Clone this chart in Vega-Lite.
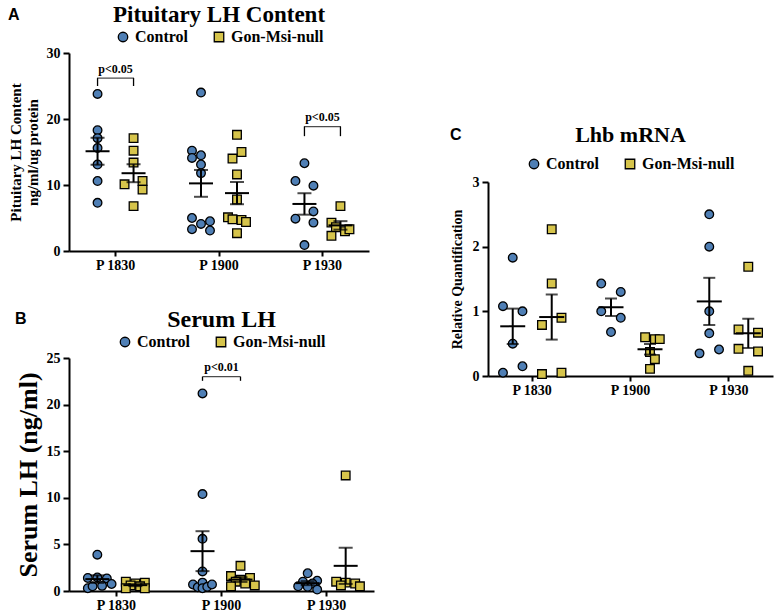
{
  "$schema": "https://vega.github.io/schema/vega-lite/v6.json",
  "padding": {"left": 8, "top": 4, "right": 2, "bottom": 0},
  "config": {
    "view": {"stroke": null},
    "font": "Liberation Serif",
    "title": {"font": "Liberation Serif", "fontWeight": "bold", "fontSize": 23, "color": "black"},
    "axis": {"grid": false, "domainColor": "black", "domainWidth": 2, "tickColor": "black", "tickWidth": 2, "labelColor": "black", "labelFont": "Liberation Serif", "labelFontWeight": "bold", "labelFontSize": 14, "titleFont": "Liberation Serif", "titleFontWeight": "bold", "titleColor": "black"},
    "axisX": {"title": null, "labelAngle": 0, "tickSize": 5, "labelPadding": 2},
    "axisY": {"tickSize": 6, "labelPadding": 3},
    "legend": {"orient": "top", "direction": "horizontal", "labelFont": "Liberation Serif", "labelFontWeight": "bold", "labelFontSize": 16, "labelColor": "black", "symbolSize": 90, "symbolStrokeColor": "black", "symbolStrokeWidth": 1.3, "columnPadding": 22, "padding": 0, "offset": 8, "layout": {"top": {"anchor": "middle"}}}
  },
  "datasets": {
    "A": [
      {"p": "P 1830", "g": "Control", "l": "c0", "v": 23.8},
      {"p": "P 1830", "g": "Control", "l": "c0", "v": 18.3},
      {"p": "P 1830", "g": "Control", "l": "c0", "v": 17.1},
      {"p": "P 1830", "g": "Control", "l": "c0", "v": 15.6},
      {"p": "P 1830", "g": "Control", "l": "c0", "v": 13.1},
      {"p": "P 1830", "g": "Control", "l": "c0", "v": 10.6},
      {"p": "P 1830", "g": "Control", "l": "c0", "v": 7.3},
      {"p": "P 1830", "g": "Gon-Msi-null", "l": "g0", "v": 17.1},
      {"p": "P 1830", "g": "Gon-Msi-null", "l": "g0", "v": 15.2},
      {"p": "P 1830", "g": "Gon-Msi-null", "l": "g0", "v": 13.4},
      {"p": "P 1830", "g": "Gon-Msi-null", "l": "g-2", "v": 10.1},
      {"p": "P 1830", "g": "Gon-Msi-null", "l": "g2", "v": 10.6},
      {"p": "P 1830", "g": "Gon-Msi-null", "l": "g2", "v": 9.3},
      {"p": "P 1830", "g": "Gon-Msi-null", "l": "g0", "v": 6.8},
      {"p": "P 1900", "g": "Control", "l": "c0", "v": 24.0},
      {"p": "P 1900", "g": "Control", "l": "c-2", "v": 15.2},
      {"p": "P 1900", "g": "Control", "l": "c0", "v": 14.5},
      {"p": "P 1900", "g": "Control", "l": "c-2", "v": 14.1},
      {"p": "P 1900", "g": "Control", "l": "c0", "v": 13.1},
      {"p": "P 1900", "g": "Control", "l": "c0", "v": 11.8},
      {"p": "P 1900", "g": "Control", "l": "c-2", "v": 5.0},
      {"p": "P 1900", "g": "Control", "l": "c0", "v": 4.1},
      {"p": "P 1900", "g": "Control", "l": "c2", "v": 4.5},
      {"p": "P 1900", "g": "Control", "l": "c-2", "v": 3.3},
      {"p": "P 1900", "g": "Control", "l": "c2", "v": 3.1},
      {"p": "P 1900", "g": "Gon-Msi-null", "l": "g0", "v": 17.6},
      {"p": "P 1900", "g": "Gon-Msi-null", "l": "g1", "v": 15.0},
      {"p": "P 1900", "g": "Gon-Msi-null", "l": "g-1", "v": 14.0},
      {"p": "P 1900", "g": "Gon-Msi-null", "l": "g0", "v": 11.6},
      {"p": "P 1900", "g": "Gon-Msi-null", "l": "g0", "v": 7.8},
      {"p": "P 1900", "g": "Gon-Msi-null", "l": "g-2", "v": 5.1},
      {"p": "P 1900", "g": "Gon-Msi-null", "l": "g-1", "v": 4.8},
      {"p": "P 1900", "g": "Gon-Msi-null", "l": "g1", "v": 4.7},
      {"p": "P 1900", "g": "Gon-Msi-null", "l": "g2", "v": 4.4},
      {"p": "P 1900", "g": "Gon-Msi-null", "l": "g0", "v": 2.7},
      {"p": "P 1930", "g": "Control", "l": "c0", "v": 13.3},
      {"p": "P 1930", "g": "Control", "l": "c-2", "v": 10.6},
      {"p": "P 1930", "g": "Control", "l": "c2", "v": 9.9},
      {"p": "P 1930", "g": "Control", "l": "c2", "v": 6.0},
      {"p": "P 1930", "g": "Control", "l": "c-2", "v": 4.9},
      {"p": "P 1930", "g": "Control", "l": "c2", "v": 4.3},
      {"p": "P 1930", "g": "Control", "l": "c0", "v": 0.9},
      {"p": "P 1930", "g": "Gon-Msi-null", "l": "g0", "v": 6.8},
      {"p": "P 1930", "g": "Gon-Msi-null", "l": "g-2", "v": 4.3},
      {"p": "P 1930", "g": "Gon-Msi-null", "l": "g-1", "v": 3.6},
      {"p": "P 1930", "g": "Gon-Msi-null", "l": "g1", "v": 3.0},
      {"p": "P 1930", "g": "Gon-Msi-null", "l": "g2", "v": 3.3},
      {"p": "P 1930", "g": "Gon-Msi-null", "l": "g-2", "v": 2.3}
    ],
    "B": [
      {"p": "P 1830", "g": "Control", "l": "c0", "v": 3.9},
      {"p": "P 1830", "g": "Control", "l": "c-2", "v": 1.4},
      {"p": "P 1830", "g": "Control", "l": "c0", "v": 1.45},
      {"p": "P 1830", "g": "Control", "l": "c2", "v": 1.35},
      {"p": "P 1830", "g": "Control", "l": "c-2", "v": 0.3},
      {"p": "P 1830", "g": "Control", "l": "c-1", "v": 0.5},
      {"p": "P 1830", "g": "Control", "l": "c1", "v": 0.55},
      {"p": "P 1830", "g": "Control", "l": "c3", "v": 0.75},
      {"p": "P 1830", "g": "Gon-Msi-null", "l": "g-2", "v": 1.0},
      {"p": "P 1830", "g": "Gon-Msi-null", "l": "g2", "v": 0.9},
      {"p": "P 1830", "g": "Gon-Msi-null", "l": "g0", "v": 0.8},
      {"p": "P 1830", "g": "Gon-Msi-null", "l": "g-1", "v": 0.6},
      {"p": "P 1830", "g": "Gon-Msi-null", "l": "g1", "v": 0.5},
      {"p": "P 1830", "g": "Gon-Msi-null", "l": "g-2", "v": 0.3},
      {"p": "P 1830", "g": "Gon-Msi-null", "l": "g2", "v": 0.3},
      {"p": "P 1900", "g": "Control", "l": "c0", "v": 21.2},
      {"p": "P 1900", "g": "Control", "l": "c0", "v": 10.4},
      {"p": "P 1900", "g": "Control", "l": "c0", "v": 5.6},
      {"p": "P 1900", "g": "Control", "l": "c0", "v": 2.1},
      {"p": "P 1900", "g": "Control", "l": "c-2", "v": 0.7},
      {"p": "P 1900", "g": "Control", "l": "c-1", "v": 0.4},
      {"p": "P 1900", "g": "Control", "l": "c0", "v": 0.9},
      {"p": "P 1900", "g": "Control", "l": "c0", "v": 0.3},
      {"p": "P 1900", "g": "Control", "l": "c1", "v": 0.45},
      {"p": "P 1900", "g": "Control", "l": "c2", "v": 0.7},
      {"p": "P 1900", "g": "Gon-Msi-null", "l": "g0", "v": 2.7},
      {"p": "P 1900", "g": "Gon-Msi-null", "l": "g-2", "v": 1.6},
      {"p": "P 1900", "g": "Gon-Msi-null", "l": "g2", "v": 1.4},
      {"p": "P 1900", "g": "Gon-Msi-null", "l": "g0", "v": 1.2},
      {"p": "P 1900", "g": "Gon-Msi-null", "l": "g-1", "v": 1.0},
      {"p": "P 1900", "g": "Gon-Msi-null", "l": "g1", "v": 0.8},
      {"p": "P 1900", "g": "Gon-Msi-null", "l": "g3", "v": 0.6},
      {"p": "P 1900", "g": "Gon-Msi-null", "l": "g-2", "v": 0.5},
      {"p": "P 1930", "g": "Control", "l": "c0", "v": 1.9},
      {"p": "P 1930", "g": "Control", "l": "c2", "v": 1.1},
      {"p": "P 1930", "g": "Control", "l": "c-1", "v": 1.0},
      {"p": "P 1930", "g": "Control", "l": "c1", "v": 0.8},
      {"p": "P 1930", "g": "Control", "l": "c-2", "v": 0.5},
      {"p": "P 1930", "g": "Control", "l": "c0", "v": 0.45},
      {"p": "P 1930", "g": "Control", "l": "c2", "v": 0.15},
      {"p": "P 1930", "g": "Gon-Msi-null", "l": "g0", "v": 12.4},
      {"p": "P 1930", "g": "Gon-Msi-null", "l": "g-2", "v": 1.0},
      {"p": "P 1930", "g": "Gon-Msi-null", "l": "g0", "v": 0.9},
      {"p": "P 1930", "g": "Gon-Msi-null", "l": "g2", "v": 0.8},
      {"p": "P 1930", "g": "Gon-Msi-null", "l": "g-1", "v": 0.6},
      {"p": "P 1930", "g": "Gon-Msi-null", "l": "g3", "v": 0.5}
    ],
    "C": [
      {"p": "P 1830", "g": "Control", "l": "c0", "v": 1.83},
      {"p": "P 1830", "g": "Control", "l": "c-2", "v": 1.08},
      {"p": "P 1830", "g": "Control", "l": "c2", "v": 1.0},
      {"p": "P 1830", "g": "Control", "l": "c0", "v": 0.5},
      {"p": "P 1830", "g": "Control", "l": "c2", "v": 0.15},
      {"p": "P 1830", "g": "Control", "l": "c-2", "v": 0.05},
      {"p": "P 1830", "g": "Gon-Msi-null", "l": "g0", "v": 2.27},
      {"p": "P 1830", "g": "Gon-Msi-null", "l": "g0", "v": 1.43},
      {"p": "P 1830", "g": "Gon-Msi-null", "l": "g2", "v": 0.9},
      {"p": "P 1830", "g": "Gon-Msi-null", "l": "g-2", "v": 0.79},
      {"p": "P 1830", "g": "Gon-Msi-null", "l": "g-2", "v": 0.03},
      {"p": "P 1830", "g": "Gon-Msi-null", "l": "g2", "v": 0.05},
      {"p": "P 1900", "g": "Control", "l": "c-2", "v": 1.43},
      {"p": "P 1900", "g": "Control", "l": "c2", "v": 1.3},
      {"p": "P 1900", "g": "Control", "l": "c-2", "v": 1.0},
      {"p": "P 1900", "g": "Control", "l": "c2", "v": 0.9},
      {"p": "P 1900", "g": "Control", "l": "c0", "v": 0.68},
      {"p": "P 1900", "g": "Gon-Msi-null", "l": "g-1", "v": 0.6},
      {"p": "P 1900", "g": "Gon-Msi-null", "l": "g1", "v": 0.57},
      {"p": "P 1900", "g": "Gon-Msi-null", "l": "g2", "v": 0.57},
      {"p": "P 1900", "g": "Gon-Msi-null", "l": "g0", "v": 0.37},
      {"p": "P 1900", "g": "Gon-Msi-null", "l": "g1", "v": 0.26},
      {"p": "P 1900", "g": "Gon-Msi-null", "l": "g0", "v": 0.11},
      {"p": "P 1930", "g": "Control", "l": "c0", "v": 2.5},
      {"p": "P 1930", "g": "Control", "l": "c0", "v": 2.0},
      {"p": "P 1930", "g": "Control", "l": "c0", "v": 1.0},
      {"p": "P 1930", "g": "Control", "l": "c0", "v": 0.66},
      {"p": "P 1930", "g": "Control", "l": "c-2", "v": 0.35},
      {"p": "P 1930", "g": "Control", "l": "c2", "v": 0.41},
      {"p": "P 1930", "g": "Gon-Msi-null", "l": "g0", "v": 1.69},
      {"p": "P 1930", "g": "Gon-Msi-null", "l": "g-2", "v": 0.72},
      {"p": "P 1930", "g": "Gon-Msi-null", "l": "g2", "v": 0.67},
      {"p": "P 1930", "g": "Gon-Msi-null", "l": "g-2", "v": 0.42},
      {"p": "P 1930", "g": "Gon-Msi-null", "l": "g2", "v": 0.38},
      {"p": "P 1930", "g": "Gon-Msi-null", "l": "g0", "v": 0.08}
    ],
    "sigA": [
      {"p": "P 1830", "top": 26.2, "bot": 25.0, "ty": 27.6, "t": "p<0.05"},
      {"p": "P 1930", "top": 18.85, "bot": 17.4, "ty": 20.25, "t": "p<0.05"}
    ],
    "sigB": [
      {"p": "P 1900", "top": 23.0, "bot": 22.55, "ty": 24.0, "t": "p<0.01"}
    ]
  },
  "hconcat": [
    {
      "vconcat": [
        {
          "title": {"text": "A", "anchor": "start", "font": "Liberation Sans", "fontSize": 16, "fontWeight": "bold", "offset": -19},
          "resolve": {"scale": {"color": "independent", "shape": "independent"}, "legend": {"color": "independent", "shape": "independent"}},
          "vconcat": [
            {
              "width": 300,
              "height": 198,
              "title": {"text": "Pituitary LH Content", "fontSize": 23, "offset": 2},
              "data": {"name": "A"},
              "transform": [{"calculate": "datum.g == 'Control' ? 'c0' : 'g0'", "as": "c"}],
              "layer": [
                {
                  "mark": {"type": "point", "filled": true, "stroke": "black", "strokeWidth": 1.3, "opacity": 1, "size": 75},
                  "encoding": {
                    "x": {"field": "p", "type": "nominal", "scale": {"type": "band", "domain": ["P 1830", "P 1900", "P 1930"], "paddingInner": 0.1, "paddingOuter": 0}},
                    "xOffset": {"field": "l", "type": "nominal", "scale": {"type": "point", "domain": ["c-3","c-2","c-1","c0","c1","c2","c3","z","g-3","g-2","g-1","g0","g1","g2","g3"], "range": [15.05, 78.05], "padding": 0}},
                    "y": {"field": "v", "type": "quantitative", "title": ["Pituitary LH Content", "ng/ml/ug protein"], "scale": {"domain": [0, 30], "nice": false}, "axis": {"values": [0, 10, 20, 30], "titleFontSize": 15, "titlePadding": 6}},
                    "color": {"field": "g", "type": "nominal", "scale": {"domain": ["Control", "Gon-Msi-null"], "range": ["#4f7fb5", "#d6c44b"]}, "legend": {"title": null}},
                    "shape": {"field": "g", "type": "nominal", "scale": {"domain": ["Control", "Gon-Msi-null"], "range": ["circle", "square"]}, "legend": {"title": null}}
                  }
                },
                {
                  "mark": {"type": "errorbar", "extent": "stderr", "ticks": true, "size": 14, "thickness": 2, "color": "black", "orient": "vertical"},
                  "encoding": {
                    "x": {"field": "p", "type": "nominal"},
                    "xOffset": {"field": "c", "type": "nominal"},
                    "y": {"field": "v", "type": "quantitative", "title": ["Pituitary LH Content", "ng/ml/ug protein"]}
                  }
                },
                {
                  "mark": {"type": "tick", "orient": "horizontal", "size": 24, "thickness": 2, "color": "black"},
                  "encoding": {
                    "x": {"field": "p", "type": "nominal"},
                    "xOffset": {"field": "c", "type": "nominal"},
                    "y": {"aggregate": "mean", "field": "v", "type": "quantitative", "title": ["Pituitary LH Content", "ng/ml/ug protein"]}
                  }
                },
                {
                  "data": {"name": "sigA"},
                  "mark": {"type": "rule", "color": "black", "strokeWidth": 1.3},
                  "encoding": {"x": {"field": "p", "type": "nominal"}, "xOffset": {"datum": "c0"}, "y": {"field": "top", "type": "quantitative", "title": ["Pituitary LH Content", "ng/ml/ug protein"]}, "y2": {"field": "bot"}}
                },
                {
                  "data": {"name": "sigA"},
                  "mark": {"type": "rule", "color": "black", "strokeWidth": 1.3},
                  "encoding": {"x": {"field": "p", "type": "nominal"}, "xOffset": {"datum": "g0"}, "y": {"field": "top", "type": "quantitative", "title": ["Pituitary LH Content", "ng/ml/ug protein"]}, "y2": {"field": "bot"}}
                },
                {
                  "data": {"name": "sigA"},
                  "mark": {"type": "tick", "orient": "horizontal", "size": 37, "thickness": 1.3, "color": "black"},
                  "encoding": {"x": {"field": "p", "type": "nominal"}, "xOffset": {"datum": "z"}, "y": {"field": "top", "type": "quantitative", "title": ["Pituitary LH Content", "ng/ml/ug protein"]}}
                },
                {
                  "data": {"name": "sigA"},
                  "mark": {"type": "text", "font": "Liberation Serif", "fontWeight": "bold", "fontSize": 12, "color": "black"},
                  "encoding": {"x": {"field": "p", "type": "nominal"}, "xOffset": {"datum": "z"}, "y": {"field": "ty", "type": "quantitative", "title": ["Pituitary LH Content", "ng/ml/ug protein"]}, "text": {"field": "t"}}
                }
              ]
            }
          ]
        },
        {
          "title": {"text": "B", "anchor": "start", "font": "Liberation Sans", "fontSize": 16, "fontWeight": "bold", "offset": -19},
          "resolve": {"scale": {"color": "independent", "shape": "independent"}, "legend": {"color": "independent", "shape": "independent"}},
          "vconcat": [
            {
              "width": 305,
              "height": 233,
              "title": {"text": "Serum LH", "fontSize": 24, "offset": 2},
              "data": {"name": "B"},
              "transform": [{"calculate": "datum.g == 'Control' ? 'c0' : 'g0'", "as": "c"}],
              "layer": [
                {
                  "mark": {"type": "point", "filled": true, "stroke": "black", "strokeWidth": 1.3, "opacity": 1, "size": 75},
                  "encoding": {
                    "x": {"field": "p", "type": "nominal", "scale": {"type": "band", "domain": ["P 1830", "P 1900", "P 1930"], "paddingInner": 0.1, "paddingOuter": 0}},
                    "xOffset": {"field": "l", "type": "nominal", "scale": {"type": "point", "domain": ["c-3","c-2","c-1","c0","c1","c2","c3","z","g-3","g-2","g-1","g0","g1","g2","g3"], "range": [14.08, 80.58], "padding": 0}},
                    "y": {"field": "v", "type": "quantitative", "title": "Serum LH (ng/ml)", "scale": {"domain": [0, 25], "nice": false}, "axis": {"values": [0, 5, 10, 15, 20, 25], "titleFontSize": 26, "titlePadding": 5}},
                    "color": {"field": "g", "type": "nominal", "scale": {"domain": ["Control", "Gon-Msi-null"], "range": ["#4f7fb5", "#d6c44b"]}, "legend": {"title": null}},
                    "shape": {"field": "g", "type": "nominal", "scale": {"domain": ["Control", "Gon-Msi-null"], "range": ["circle", "square"]}, "legend": {"title": null}}
                  }
                },
                {
                  "mark": {"type": "errorbar", "extent": "stderr", "ticks": true, "size": 14, "thickness": 2, "color": "black", "orient": "vertical"},
                  "encoding": {
                    "x": {"field": "p", "type": "nominal"},
                    "xOffset": {"field": "c", "type": "nominal"},
                    "y": {"field": "v", "type": "quantitative", "title": "Serum LH (ng/ml)"}
                  }
                },
                {
                  "mark": {"type": "tick", "orient": "horizontal", "size": 24, "thickness": 2, "color": "black"},
                  "encoding": {
                    "x": {"field": "p", "type": "nominal"},
                    "xOffset": {"field": "c", "type": "nominal"},
                    "y": {"aggregate": "mean", "field": "v", "type": "quantitative", "title": "Serum LH (ng/ml)"}
                  }
                },
                {
                  "data": {"name": "sigB"},
                  "mark": {"type": "rule", "color": "black", "strokeWidth": 1.3},
                  "encoding": {"x": {"field": "p", "type": "nominal"}, "xOffset": {"datum": "c0"}, "y": {"field": "top", "type": "quantitative", "title": "Serum LH (ng/ml)"}, "y2": {"field": "bot"}}
                },
                {
                  "data": {"name": "sigB"},
                  "mark": {"type": "rule", "color": "black", "strokeWidth": 1.3},
                  "encoding": {"x": {"field": "p", "type": "nominal"}, "xOffset": {"datum": "g0"}, "y": {"field": "top", "type": "quantitative", "title": "Serum LH (ng/ml)"}, "y2": {"field": "bot"}}
                },
                {
                  "data": {"name": "sigB"},
                  "mark": {"type": "tick", "orient": "horizontal", "size": 38, "thickness": 1.3, "color": "black"},
                  "encoding": {"x": {"field": "p", "type": "nominal"}, "xOffset": {"datum": "z"}, "y": {"field": "top", "type": "quantitative", "title": "Serum LH (ng/ml)"}}
                },
                {
                  "data": {"name": "sigB"},
                  "mark": {"type": "text", "font": "Liberation Serif", "fontWeight": "bold", "fontSize": 12, "color": "black"},
                  "encoding": {"x": {"field": "p", "type": "nominal"}, "xOffset": {"datum": "z"}, "y": {"field": "ty", "type": "quantitative", "title": "Serum LH (ng/ml)"}, "text": {"field": "t"}}
                }
              ]
            }
          ]
        }
      ],
      "spacing": 36,
      "resolve": {"scale": {"color": "independent", "shape": "independent", "x": "independent", "y": "independent", "xOffset": "independent"}, "legend": {"color": "independent", "shape": "independent"}}
    },
    {
      "vconcat": [
        {
          "width": 1,
          "height": 71,
          "data": {"values": []},
          "mark": {"type": "text"},
          "encoding": {}
        },
        {
          "title": {"text": "C", "anchor": "start", "font": "Liberation Sans", "fontSize": 16, "fontWeight": "bold", "offset": -19},
          "resolve": {"scale": {"color": "independent", "shape": "independent"}, "legend": {"color": "independent", "shape": "independent"}},
          "vconcat": [
            {
              "width": 285,
              "height": 194,
              "title": {"text": "Lhb mRNA", "fontSize": 22, "offset": 9},
              "data": {"name": "C"},
              "transform": [{"calculate": "datum.g == 'Control' ? 'c0' : 'g0'", "as": "c"}],
              "layer": [
                {
                  "mark": {"type": "point", "filled": true, "stroke": "black", "strokeWidth": 1.3, "opacity": 1, "size": 75},
                  "encoding": {
                    "x": {"field": "p", "type": "nominal", "scale": {"type": "band", "domain": ["P 1830", "P 1900", "P 1930"], "paddingInner": 0.1, "paddingOuter": 0}},
                    "xOffset": {"field": "l", "type": "nominal", "scale": {"type": "point", "domain": ["c-3","c-2","c-1","c0","c1","c2","c3","z","g-3","g-2","g-1","g0","g1","g2","g3"], "range": [10.1, 78.35], "padding": 0}},
                    "y": {"field": "v", "type": "quantitative", "title": "Relative Quantification", "scale": {"domain": [0, 3], "nice": false}, "axis": {"values": [0, 1, 2, 3], "format": "d", "titleFontSize": 14, "titlePadding": 8}},
                    "color": {"field": "g", "type": "nominal", "scale": {"domain": ["Control", "Gon-Msi-null"], "range": ["#4f7fb5", "#d6c44b"]}, "legend": {"title": null, "offset": 10}},
                    "shape": {"field": "g", "type": "nominal", "scale": {"domain": ["Control", "Gon-Msi-null"], "range": ["circle", "square"]}, "legend": {"title": null, "offset": 10}}
                  }
                },
                {
                  "mark": {"type": "errorbar", "extent": "stderr", "ticks": true, "size": 12, "thickness": 2, "color": "black", "orient": "vertical"},
                  "encoding": {
                    "x": {"field": "p", "type": "nominal"},
                    "xOffset": {"field": "c", "type": "nominal"},
                    "y": {"field": "v", "type": "quantitative", "title": "Relative Quantification"}
                  }
                },
                {
                  "mark": {"type": "tick", "orient": "horizontal", "size": 25, "thickness": 2, "color": "black"},
                  "encoding": {
                    "x": {"field": "p", "type": "nominal"},
                    "xOffset": {"field": "c", "type": "nominal"},
                    "y": {"aggregate": "mean", "field": "v", "type": "quantitative", "title": "Relative Quantification"}
                  }
                }
              ]
            }
          ]
        }
      ],
      "spacing": 0,
      "resolve": {"scale": {"color": "independent", "shape": "independent"}, "legend": {"color": "independent", "shape": "independent"}}
    }
  ],
  "spacing": 76,
  "resolve": {"scale": {"color": "independent", "shape": "independent", "x": "independent", "y": "independent", "xOffset": "independent"}, "legend": {"color": "independent", "shape": "independent"}}
}
